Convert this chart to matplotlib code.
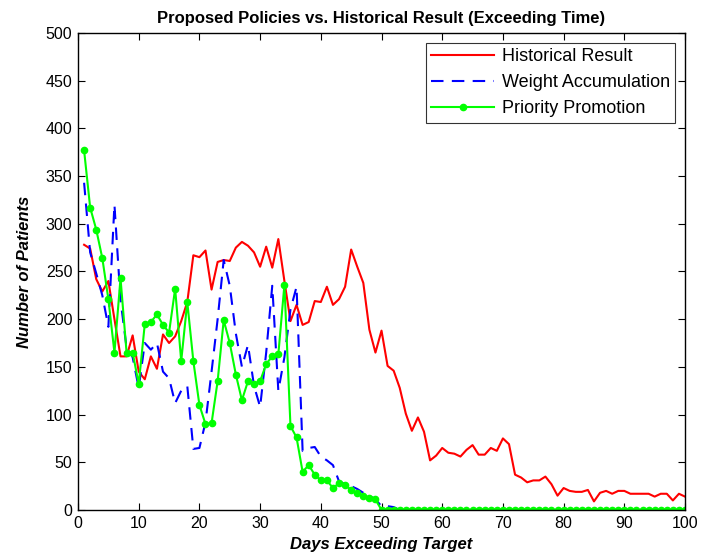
import numpy as np
import matplotlib
matplotlib.use("Agg")
import matplotlib.pyplot as plt

plt.rcParams['font.family'] = ['Liberation Sans', 'DejaVu Sans']

days = np.arange(1, 101)

historical = [
    278, 274, 242, 229, 240, 200, 161, 161, 183, 145,
    137, 161, 148, 184, 175, 182, 198, 218, 267, 265,
    272, 231, 260, 262, 261, 275, 281, 277, 270, 255,
    276, 254, 284, 240, 198, 215, 194, 197, 219, 218,
    234, 215, 221, 234, 273, 255, 238, 189, 165, 188,
    151, 146, 128, 101, 83, 97, 82, 52, 57, 65,
    60, 59, 56, 63, 68, 58, 58, 65, 62, 75,
    69, 37, 34, 29, 31, 31, 35, 27, 15, 23,
    20, 19, 19, 21, 9, 18, 20, 17, 20, 20,
    17, 17, 17, 17, 14, 17, 17, 10, 17, 14,
]

weight_accum = [
    343, 270, 248, 225, 192, 320, 220, 170, 160, 128,
    175, 168, 175, 145, 138, 112, 125, 130, 64, 65,
    92, 145, 200, 262, 235, 185, 150, 173, 130, 108,
    165, 235, 125, 160, 210, 234, 62, 65, 66, 56,
    52, 47, 30, 27, 25, 22, 18, 15, 11, 4,
    4, 3, 0, 0, 0, 0, 0, 0, 0, 0,
] + [0] * 40

priority_promo = [
    377, 317, 294, 264, 221, 165, 243, 165, 165, 132,
    195, 197, 205, 194, 186, 232, 156, 218, 156, 110,
    90, 91, 135, 199, 175, 142, 115, 135, 132, 135,
    153, 161, 163, 236, 88, 76, 40, 47, 37, 31,
    31, 23, 28, 26, 21, 18, 15, 13, 11, 0,
] + [0] * 50

fig = plt.figure(figsize=(7.01, 5.59), dpi=100)
ax = fig.add_axes([0.1113, 0.0877, 0.8659, 0.8533])

ax.plot(days, historical, color='#ff0000', lw=1.5, label='Historical Result')
ax.plot(days, weight_accum, color='#0000ff', lw=1.5, dashes=(6, 4),
        label='Weight Accumulation')
ax.plot(days, priority_promo, color='#00ff00', lw=1.5, marker='o',
        markersize=4.5, label='Priority Promotion')

ax.set_xlim(0, 100)
ax.set_ylim(0, 500)
ax.set_xticks(np.arange(0, 101, 10))
ax.set_yticks(np.arange(0, 501, 50))
ax.tick_params(direction='in', top=True, right=True, labelsize=11.5, length=5,
               width=0.8, pad=4)
for s in ax.spines.values():
    s.set_linewidth(1.0)

ax.set_title('Proposed Policies vs. Historical Result (Exceeding Time)',
             fontsize=12, fontweight='bold', pad=7)
ax.set_xlabel('Days Exceeding Target', fontsize=12, fontweight='bold',
              fontstyle='italic', labelpad=5)
ax.set_ylabel('Number of Patients', fontsize=12, fontweight='bold',
              fontstyle='italic', labelpad=10)

leg = ax.legend(loc='upper right', fontsize=13, frameon=True, fancybox=False,
                edgecolor='black', handlelength=3.5, borderaxespad=0.55,
                borderpad=0.3, labelspacing=0.5, handletextpad=0.4)
leg.get_frame().set_linewidth(0.8)

fig.savefig('out.png', dpi=100, facecolor='white')
